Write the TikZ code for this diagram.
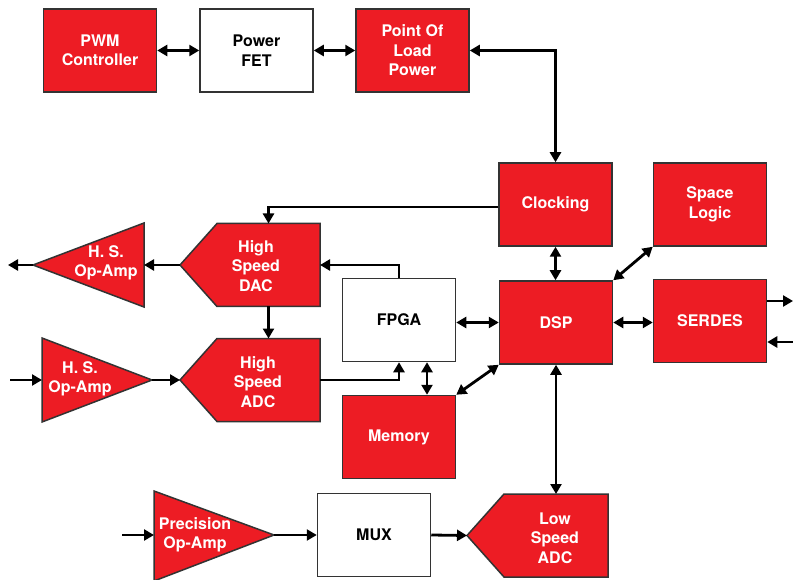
\documentclass[tikz,border=0pt]{standalone}
\usepackage{fontspec}
\setmainfont{TeX Gyre Heros}
\usetikzlibrary{arrows.meta}
\definecolor{blockred}{HTML}{ED1C24}
\definecolor{edgegray}{HTML}{333333}

\begin{document}
\begin{tikzpicture}[x=1pt, y=-1pt,
    every node/.style={font=\bfseries\fontsize{16}{19.5}\selectfont, align=center},
    redblock/.style={draw=edgegray, line width=1.5pt, fill=blockred, text=white,
        minimum width=113pt, minimum height=83pt, inner sep=0pt},
    whiteblock/.style={redblock, fill=white, text=black},
    body/.style={minimum width=103pt, minimum height=83pt, inner sep=0pt, outer sep=0pt},
    redshape/.style={draw=edgegray, line width=1.5pt, fill=blockred},
    shapetext/.style={text=white},
    link/.style={line width=2.8pt, -{Triangle[length=10pt,width=11pt]}},
    dlink/.style={line width=2.8pt, {Triangle[length=10pt,width=11pt]}-{Triangle[length=10pt,width=11pt]}}]
    \useasboundingbox (0,0) rectangle (793,580);

    % Power chain
    \node[redblock] (pwm) at (100,50.5) {PWM\\Controller};
    \node[whiteblock] (fet) at (256.5,50.5) {Power\\FET};
    \node[redblock] (pol) at (412.5,50.5) {Point Of\\Load\\Power};

    % Digital blocks
    \node[redblock] (clk) at (555.5,204.5) {Clocking};
    \node[redblock] (space) at (710,204.5) {Space\\Logic};
    \node[redblock] (dsp) at (556,322.5) {DSP};
    \node[redblock] (serdes) at (710,321) {SERDES};
    \node[whiteblock] (fpga) at (399,320) {FPGA};
    \node[redblock] (mem) at (399,437) {Memory};
    \node[whiteblock] (mux) at (374,535) {MUX};

    % Converters
    \node[body] (dac) at (268.5,265) {};
    \draw[redshape] (dac.north west) -- (dac.north east) -- (dac.south east)
        -- (dac.south west) -- ++(-37,-41.5) coordinate (dac-tip) -- cycle;
    \node[shapetext] (dac-txt) at (256,266) {High\\Speed\\DAC};

    \node[body] (adc) at (268.5,380) {};
    \draw[redshape] (adc.north west) -- (adc.north east) -- (adc.south east)
        -- (adc.south west) -- ++(-37,-41.5) coordinate (adc-tip) -- cycle;
    \node[shapetext] (adc-txt) at (258,382) {High\\Speed\\ADC};

    \node[body, minimum width=104pt] (lsadc) at (556,535.5) {};
    \draw[redshape] (lsadc.north west) -- (lsadc.north east) -- (lsadc.south east)
        -- (lsadc.south west) -- ++(-37,-41.5) coordinate (lsadc-tip) -- cycle;
    \node[shapetext] (lsadc-txt) at (555,538) {Low\\Speed\\ADC};

    % Amplifiers
    \draw[redshape] (144,223) -- (144,307) -- (33,265) coordinate (hsout-tip) -- cycle;
    \coordinate (hsout-base) at (144,265);
    \node[shapetext] (hsout-txt) at (106,263) {H. S.\\Op-Amp};

    \draw[redshape] (42,338) -- (42,422) -- (152,380) coordinate (hsin-tip) -- cycle;
    \coordinate (hsin-base) at (42,380);
    \node[shapetext] (hsin-txt) at (80,379) {H. S.\\Op-Amp};

    \draw[redshape] (154,491) -- (154,581) -- (274,535) coordinate (prec-tip) -- cycle;
    \coordinate (prec-base) at (154,535);
    \node[shapetext] (prec-txt) at (195,535) {Precision\\Op-Amp};

    % Free ends
    \coordinate (dacout) at (8,265);
    \coordinate (adcin) at (10,380);
    \coordinate (precin) at (122,535);
    \coordinate (txout) at (793,301);
    \coordinate (rxin) at (793,342);

    % Connections
    \draw[dlink] (pwm) -- (fet);
    \draw[dlink] (fet) -- (pol);
    \draw[dlink] (pol.east) -| (clk.north);
    \draw[dlink] (clk.south) -- (clk.south |- dsp.north);
    \draw[dlink] (dsp.north east) -- (space.south west);
    \draw[dlink] (dsp.east) -- (dsp.east -| serdes.west);
    \draw[dlink] (fpga.east |- dsp.west) -- (dsp.west);
    \draw[dlink] (dsp.south west) -- (mem.north east);
    \draw[dlink] ([xshift=28pt]fpga.south) -- ([xshift=28pt]fpga.south |- mem.north);
    \draw[dlink] (dsp.south) -- (dsp.south |- lsadc.north);
    \draw[link] (serdes.east |- txout) -- (txout);
    \draw[link] (rxin) -- (serdes.east |- rxin);
    \draw[link] ([yshift=-2.5pt]clk.west) -| (dac.north);
    \draw[link] (fpga.north) |- (dac.east);
    \draw[link] (dac-tip) -- (hsout-base);
    \draw[link] (hsout-tip) -- (dacout);
    \draw[link] (dac.south) -- (adc.north);
    \draw[link] (adcin) -- (hsin-base);
    \draw[link] (hsin-tip) -- (adc-tip);
    \draw[link] (adc.east) -| (fpga.south);
    \draw[link] (precin) -- (prec-base);
    \draw[link] (prec-tip) -- (mux.west);
    \draw[link] (mux.east) -- (lsadc-tip);
\end{tikzpicture}
\end{document}
